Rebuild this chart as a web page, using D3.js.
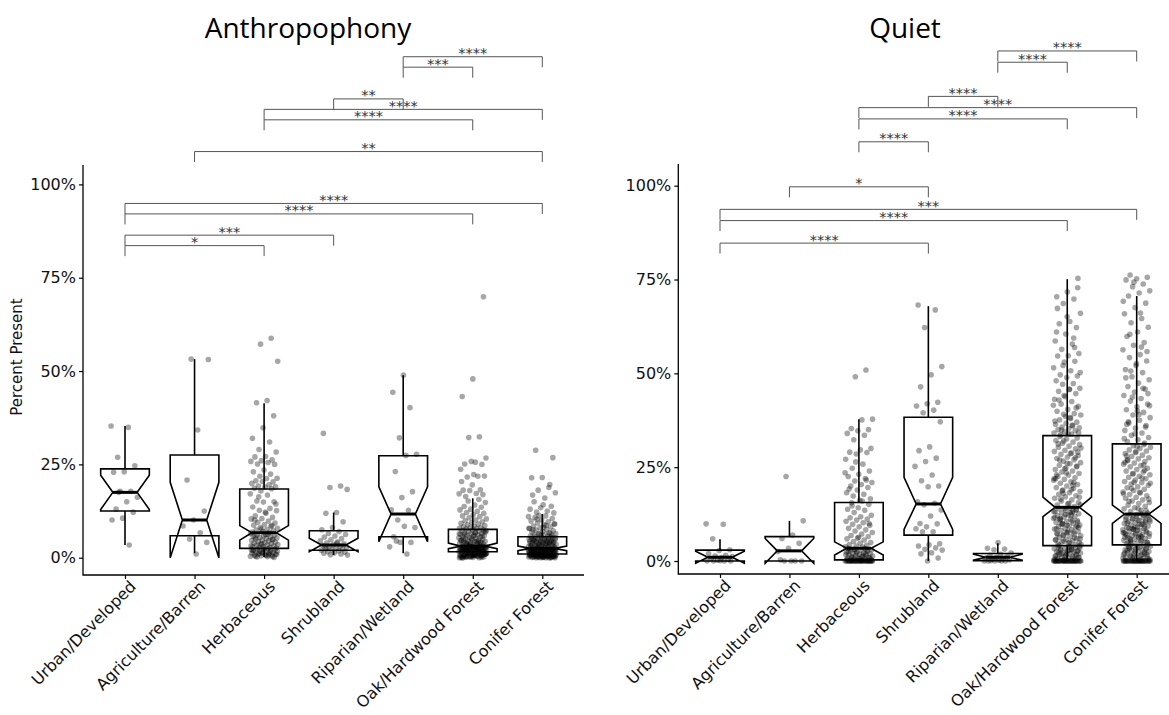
<!DOCTYPE html>
<html>
<head>
<meta charset="utf-8">
<script src="https://cdnjs.cloudflare.com/ajax/libs/d3/7.8.5/d3.min.js"></script>
<style>
  body { margin: 0; background: #fff; }
  svg { display: block; }
</style>
</head>
<body>
<svg id="chart" width="1169" height="715"></svg>
<script>

var landCovers = ["Urban/Developed", "Agriculture/Barren", "Herbaceous", "Shrubland",
                  "Riparian/Wetland", "Oak/Hardwood Forest", "Conifer Forest"]
var percentTicks = [0, 25, 50, 75, 100]

// box statistics, percent present (anthropophony)
var anthroWhiskerLow  = [3.4, 1.2, 0.2, 0.7, 1.2, 0, 0]
var anthroQ1          = [12.5, 5.9, 2.5, 2.0, 5.6, 1.6, 1.0]
var anthroNotchLow    = [12.9, 0.0, 4.7, 1.6, 4.3, 2.4, 1.9]
var anthroMedian      = [17.5, 10.1, 6.7, 3.4, 11.7, 3.1, 2.5]
var anthroNotchHigh   = [22.1, 20.2, 8.6, 5.2, 19.0, 3.9, 3.1]
var anthroQ3          = [23.8, 27.5, 18.4, 7.2, 27.3, 7.6, 5.6]
var anthroWhiskerHigh = [35.3, 53.2, 41.4, 12.1, 48.9, 15.9, 11.7]

// box statistics, percent present (quiet)
var quietWhiskerLow  = [0, 0, 0, 0, 0, 0, 0]
var quietQ1          = [0, 0, 0.3, 6.9, 0.1, 4.1, 4.3]
var quietNotchLow    = [-0.6, -0.6, 1.6, 8.4, 0.2, 11.8, 10.0]
var quietMedian      = [1.0, 2.7, 3.4, 15.2, 1.0, 14.3, 12.5]
var quietNotchHigh   = [2.6, 6.0, 5.1, 22.3, 1.8, 17.0, 14.9]
var quietQ3          = [2.9, 6.5, 15.6, 38.3, 2.0, 33.4, 31.2]
var quietWhiskerHigh = [5.8, 10.7, 37.8, 67.9, 4.7, 75.1, 70.6]

// site observations, percent present (anthropophony)
var anthroUrban = [35.3, 34.9, 26.9, 24.6, 23.0, 22.9, 17.8, 17.8, 16.2, 15.0, 13.0, 12.2, 10.6, 10.1, 3.4, 17.5]
var anthroAgri = [53.2, 53.1, 34.2, 20.8, 12.5, 10.1, 8.5, 6.7, 5.0, 4.1, 1.0]
var anthroHerb = [58.8, 57.2, 52.6, 42.1, 41.5, 38.0, 34.8, 32.0, 31.0, 29.0, 28.3, 27.1, 27.0, 26.2, 26.0, 25.8, 25.5, 25.1, 25.0, 23.5, 23.0, 22.4, 21.8, 21.3, 21.2, 20.6, 20.3, 20.4, 19.9, 19.5, 19.2, 19.0, 18.9, 18.6, 18.5,
  17.9, 17.1, 16.8, 15.2, 15.0, 14.9, 13.6, 13.2, 12.7, 12.6, 11.9, 11.2, 10.8, 10.5, 10.4, 9.8, 9.5, 9.3, 8.9, 8.7, 8.4, 8.1, 7.9, 7.6, 7.4, 7.2, 7.0, 6.9, 6.8, 16.3, 14.4, 12.2, 10.1, 8.6, 7.7,
  6.4, 6.3, 6.1, 6.0, 5.9, 5.7, 5.6, 5.4, 5.3, 5.1, 5.0, 4.9, 4.7, 4.6, 4.5, 4.3, 4.2, 4.0, 3.9, 3.8, 3.6, 3.5, 3.4, 3.3, 3.1, 3.0, 2.9, 2.8, 2.7, 2.6, 6.2, 5.5, 4.8, 3.7, 3.2,
  2.4, 2.3, 2.2, 2.1, 2.0, 1.9, 1.8, 1.7, 1.6, 1.5, 1.4, 1.3, 1.2, 1.1, 1.0, 0.9, 0.8, 0.7, 0.6, 0.5, 0.4, 0.3, 0.2, 0.1, 2.4, 1.9, 1.6, 1.2, 0.9, 0.6, 0.4, 0.3, 1.4, 2.1, 0.8]
var anthroShrub = [33.3, 19.2, 18.8, 18.3, 12.1, 11.9, 9.6, 8.1, 7.5, 7.0, 6.5, 6.2, 5.8, 5.5, 5.1, 4.8, 4.5, 4.2, 4.0, 3.7,
  3.5, 3.3, 3.1, 3.0, 2.8, 2.6, 2.5, 2.3, 2.1, 2.0, 1.8, 1.6, 1.5, 1.3, 1.2, 1.0, 0.8, 0.7, 3.9, 2.4]
var anthroRiparian = [48.9, 44.3, 40.2, 32.1, 27.7, 27.4, 23.1, 17.7, 16.1, 12.8, 12.7, 10.1, 8.1, 8.4, 5.6, 4.1, 4.1, 2.9, 1.0, 4.5]
var anthroOak = [69.9, 47.9, 43.2, 32.4, 32.2, 26.7, 25.6, 25.1, 25.0, 25.8, 23.7, 21.8, 21.6, 21.9, 22.3, 18.1, 18.2, 18.0, 17.1, 17.2, 16.4, 16.9, 19.5, 20.4,
  15.6, 15.2, 14.8, 14.1, 13.7, 13.5, 13.0, 12.8, 12.4, 12.1, 11.9, 11.5, 11.2, 11.0, 10.7, 10.4, 10.1, 9.9, 9.6, 9.4, 9.2, 9.0, 8.8, 8.6, 8.5, 8.3, 8.1, 8.0, 7.9, 7.8, 7.7,
  7.5, 7.4, 7.2, 7.1, 7.0, 6.9, 6.8, 6.6, 6.5, 6.4, 6.3, 6.1, 6.0, 5.9, 5.8, 5.6, 5.5, 5.4, 5.3, 5.2, 5.0, 4.9, 4.8, 4.7, 4.6, 4.5, 4.4, 4.3, 4.2, 4.1, 4.0, 3.9, 3.8, 3.7, 3.6, 3.5, 3.4, 3.3, 3.2,
  7.3, 6.7, 6.2, 5.7, 5.1, 4.6, 4.1, 3.6, 7.0, 6.0, 5.0, 4.0, 3.5, 6.4, 4.4, 3.9,
  3.0, 2.9, 2.8, 2.7, 2.6, 2.5, 2.4, 2.3, 2.2, 2.1, 2.0, 1.9, 1.8, 1.7, 3.0, 2.9, 2.7, 2.6, 2.4, 2.3, 2.1, 2.0, 1.8, 1.7, 3.0, 2.8, 2.5, 2.2, 1.9, 1.6,
  2.9, 2.6, 2.3, 2.0, 1.7, 2.8, 2.5, 2.2, 1.9, 3.0, 2.7, 2.4, 2.1, 1.8, 2.6, 2.2, 1.8, 2.9, 2.4, 2.0, 2.7, 2.3, 1.6, 2.5, 2.1,
  1.5, 1.4, 1.3, 1.2, 1.1, 1.0, 0.9, 0.8, 0.7, 0.6, 0.5, 0.4, 0.3, 0.2, 0.1, 0.0, 1.5, 1.3, 1.1, 0.9, 0.7, 0.5, 0.3, 0.1, 1.4, 1.2, 1.0, 0.8, 0.6, 0.4, 0.2, 0.0,
  1.5, 1.2, 0.9, 0.6, 0.3, 0.0, 1.4, 1.0, 0.7, 0.4, 0.1, 1.3, 0.8, 0.5, 0.2, 1.1, 0.6, 0.0, 0.9, 0.3, 1.2, 0.7, 0.2]
var anthroConifer = [28.8, 26.8, 21.5, 21.4, 18.8, 18.1, 17.4, 16.0, 15.0, 13.8, 13.4, 13.0, 12.5, 12.2, 12.0, 14.2, 16.8, 19.6,
  11.3, 11.0, 11.2, 10.8, 10.5, 10.1, 9.8, 9.6, 9.3, 9.0, 8.8, 8.5, 8.3, 8.0, 7.8, 7.6, 7.4, 7.2, 7.0, 6.9, 6.7, 6.5, 6.4, 6.2, 6.1, 6.0, 5.9, 5.8, 5.7, 10.3, 9.1, 8.1, 7.5, 6.6, 6.3, 7.9, 8.7,
  5.5, 5.4, 5.3, 5.2, 5.1, 5.0, 4.9, 4.8, 4.7, 4.6, 4.5, 4.4, 4.3, 4.2, 4.1, 4.0, 3.9, 3.8, 3.7, 3.6, 3.5, 3.4, 3.3, 3.2, 3.1, 3.0, 2.9, 2.8, 2.7, 2.6,
  5.5, 5.2, 4.9, 4.6, 4.3, 4.0, 3.7, 3.4, 3.1, 2.8, 5.3, 5.0, 4.7, 4.4, 4.1, 3.8, 3.5, 3.2, 2.9, 2.6, 4.8, 4.2, 3.6, 3.0, 3.9,
  2.4, 2.3, 2.2, 2.1, 2.0, 1.9, 1.8, 1.7, 1.6, 1.5, 1.4, 1.3, 1.2, 1.1, 2.4, 2.3, 2.1, 2.0, 1.8, 1.7, 1.5, 1.4, 1.2, 1.1, 2.4, 2.2, 1.9, 1.6, 1.3, 1.0,
  2.3, 2.0, 1.7, 1.4, 1.1, 2.2, 1.9, 1.6, 1.3, 2.4, 2.1, 1.8, 1.5, 1.2, 2.0, 1.6, 1.2, 2.3, 1.8, 1.4, 2.1, 1.7, 1.0, 1.9, 1.5,
  0.9, 0.8, 0.7, 0.6, 0.5, 0.4, 0.3, 0.2, 0.1, 0.0, 0.9, 0.8, 0.7, 0.5, 0.4, 0.3, 0.1, 0.0, 0.9, 0.7, 0.6, 0.4, 0.2, 0.0, 0.8, 0.6, 0.5, 0.3, 0.1,
  0.9, 0.7, 0.4, 0.2, 0.0, 0.8, 0.5, 0.3, 0.9, 0.6, 0.2, 0.0, 0.7, 0.4, 0.1, 0.8, 0.5, 0.3, 0.0, 0.6, 0.2, 0.9, 0.4, 0.1, 0.7, 0.5]

// site observations, percent present (quiet)
var quietUrban = [9.9, 9.8, 5.9, 3.0, 2.8, 2.0, 1.5, 1.3, 1.2, 0.9, 0.6, 0.4, 0.2, 0, 0, 0, 0, 0.1]
var quietAgri = [22.5, 10.7, 6.9, 6.0, 4.7, 3.4, 2.5, 0, 0, 0, 0, 0.3]
var quietHerb = [50.9, 49.1, 37.8, 37.6, 35.3, 35.0, 34.7, 34.0, 33.5, 32.3, 30.0, 29.6, 29.0, 28.9, 28.5, 27.1, 25.8, 24.7, 24.0, 23.1, 22.5, 22.0, 21.3, 20.9, 20.4, 20.0, 19.6, 18.9, 18.2, 17.8, 17.3, 16.6, 16.2, 19.2, 21.6, 26.4, 23.5, 16.0,
  15.5, 15.1, 14.2, 13.8, 13.5, 12.9, 12.2, 11.8, 11.5, 11.2, 10.9, 10.6, 10.2, 9.8, 9.5, 9.1, 8.7, 8.3, 8.0, 7.6, 7.2, 6.8, 6.5, 6.1, 5.9, 5.6, 5.2, 4.9, 4.7, 4.4, 4.2, 4.0, 3.8, 3.7, 14.7, 10.0, 6.3,
  3.4, 3.3, 3.1, 3.0, 2.9, 2.7, 2.6, 2.4, 2.3, 2.1, 2.0, 1.9, 1.8, 1.6, 1.5, 1.4, 1.3, 1.2, 1.1, 1.0, 0.9, 0.8, 0.7, 0.6, 0.5, 0.5, 3.2, 2.8, 2.2, 1.7, 1.4, 1.0, 0.8, 0.6, 2.5, 1.9, 3.0,
  0.1, 0.2, 0.3, 0.2, 0.1, 0.3, 0.2, 0.1, 0, 0, 0, 0, 0, 0, 0, 0, 0, 0, 0, 0, 0, 0, 0, 0, 0, 0, 0, 0, 0, 0, 0, 0, 0, 0, 0, 0, 0, 0]
var quietShrub = [68.2, 66.9, 62.2, 51.8, 49.6, 46.4, 42.3, 41.9, 41.3, 40.2, 39.5, 37.1, 30.4, 29.4, 27.4, 26.5, 25.2, 22.9, 21.4, 20.0, 19.8,
  15.8, 15.4, 15.0, 13.6, 12.0, 10.0, 9.9, 9.1, 8.6, 7.8, 7.8, 4.6, 4.3, 4.0, 3.5, 3.1, 2.9, 2.2, 1.9, 0.8, 0.0]
var quietRiparian = [4.9, 3.4, 3.2, 3.0, 2.1, 1.8, 1.5, 1.2, 1.0, 0.8, 0.6, 0.5, 0.3, 0.2, 0, 0, 0, 0, 0, 0.1]
var quietOak = [75.3, 71.7, 70.4, 69.8, 68.6, 66.0, 63.8, 63.2, 62.2, 60.5, 58.6, 57.8, 56.4, 55.3, 54.7, 54.6, 53.2, 53.0, 51.5, 50.7, 49.6, 49.3, 48.9, 48.0, 47.3, 47.1,
  46.0, 45.8, 45.2, 44.6, 43.8, 43.1, 42.5, 41.8, 41.2, 40.4, 39.9, 39.3, 39.1, 38.9, 38.2, 37.6, 37.0, 36.7, 36.4, 36.0, 35.7, 35.5, 35.3, 35.0, 34.7, 34.4, 34.1, 33.8, 33.6,
  72.8, 65.1, 61.0, 59.4, 52.1, 50.2, 45.7, 42.9, 40.8, 38.5, 37.3, 36.2, 34.9, 34.2, 33.9, 67.3, 56.9, 44.1, 41.5, 38.0,
  33.2, 32.8, 32.5, 32.1, 31.7, 31.4, 31.0, 30.6, 30.3, 29.9, 29.5, 29.2, 28.8, 28.4, 28.1, 27.7, 27.3, 27.0, 26.6, 26.2, 25.9, 25.5, 25.1, 24.8, 24.4, 24.0,
  23.7, 23.3, 22.9, 22.6, 22.2, 21.8, 21.5, 21.1, 20.7, 20.4, 20.0, 19.6, 19.3, 18.9, 18.5, 18.2, 17.8, 17.4, 17.1, 16.7, 16.3, 16.0, 15.6, 15.2, 14.9, 14.5,
  32.0, 30.1, 28.6, 26.9, 25.3, 23.5, 21.9, 20.2, 18.7, 17.0, 15.4, 31.2, 27.5, 24.6, 22.0, 19.0, 16.5, 29.0, 26.0, 23.0, 20.9, 18.0, 15.0,
  14.1, 13.9, 13.7, 13.5, 13.2, 13.0, 12.8, 12.6, 12.3, 12.1, 11.9, 11.7, 11.4, 11.2, 11.0, 10.8, 10.5, 10.3, 10.1, 9.9, 9.6, 9.4, 9.2, 9.0, 8.7,
  8.5, 8.3, 8.1, 7.8, 7.6, 7.4, 7.2, 6.9, 6.7, 6.5, 6.3, 6.0, 5.8, 5.6, 5.4, 5.1, 4.9, 4.7, 4.5, 4.3, 14.0, 13.1, 12.2, 11.3, 10.4, 9.5, 8.6, 7.7, 6.8, 5.9,
  5.0, 4.2, 13.6, 12.4, 11.6, 10.7, 9.8, 8.9, 8.0, 7.1, 6.2, 5.3, 4.4, 12.9, 11.1, 9.3, 7.5, 5.7, 13.3, 10.0,
  4.0, 3.9, 3.7, 3.6, 3.4, 3.3, 3.1, 3.0, 2.8, 2.7, 2.5, 2.4, 2.2, 2.1, 1.9, 1.8, 1.6, 1.5, 1.3, 1.2, 1.0, 0.9, 0.7, 0.6, 0.4, 0.3, 0.1,
  3.8, 3.2, 2.6, 2.0, 1.4, 0.8, 0.2, 3.5, 2.9, 2.3, 1.7, 1.1, 0.5, 3.0, 1.9, 0.9,
  0, 0, 0, 0, 0, 0, 0, 0, 0, 0, 0, 0, 0, 0, 0, 0, 0, 0, 0, 0, 0, 0, 0, 0, 0, 0, 0, 0, 0, 0, 0, 0]
var quietConifer = [76.2, 75.6, 75.2, 74.9, 73.8, 73.1, 72.0, 71.4, 70.6, 68.7, 67.5, 65.9, 64.6, 63.5, 62.3, 61.0, 59.8, 58.2, 57.5, 56.3, 55.0, 54.2, 53.3, 52.1, 51.0,
  50.2, 49.1, 48.3, 47.4, 46.5, 45.8, 45.0, 44.1, 43.3, 42.6, 41.8, 41.1, 40.3, 39.6, 38.9, 38.2, 37.5, 36.8, 36.1, 35.4, 34.8, 34.1, 33.5, 32.9, 32.3, 31.8, 31.4,
  74.3, 69.2, 66.1, 60.4, 55.8, 52.6, 48.8, 46.0, 43.7, 41.4, 39.0, 37.1, 35.7, 33.9, 32.6, 57.0, 50.6, 44.6, 40.0, 36.4,
  31.0, 30.7, 30.3, 30.0, 29.6, 29.3, 28.9, 28.6, 28.2, 27.9, 27.5, 27.2, 26.8, 26.5, 26.1, 25.8, 25.4, 25.1, 24.7, 24.4, 24.0, 23.7, 23.3, 23.0, 22.6, 22.3,
  21.9, 21.6, 21.2, 20.9, 20.5, 20.2, 19.8, 19.5, 19.1, 18.8, 18.4, 18.1, 17.7, 17.4, 17.0, 16.7, 16.3, 16.0, 15.6, 15.3, 14.9, 14.6, 14.2, 13.9, 13.5, 13.2, 12.8,
  30.5, 28.0, 25.6, 23.2, 20.7, 18.3, 15.9, 13.4, 29.1, 26.3, 22.1, 19.3, 16.5, 14.0, 27.0, 24.2, 21.0, 17.9, 12.7,
  12.3, 12.1, 11.9, 11.7, 11.5, 11.2, 11.0, 10.8, 10.6, 10.4, 10.2, 10.0, 9.8, 9.6, 9.3, 9.1, 8.9, 8.7, 8.5, 8.3, 8.1, 7.9, 7.7, 7.4, 7.2,
  7.0, 6.8, 6.6, 6.4, 6.2, 6.0, 5.8, 5.5, 5.3, 5.1, 4.9, 4.7, 4.5, 12.2, 11.4, 10.5, 9.7, 8.8, 8.0, 7.1, 6.3, 5.4, 4.6,
  11.8, 10.9, 10.1, 9.2, 8.4, 7.5, 6.7, 5.9, 5.0, 12.4, 11.1, 9.9, 8.6, 7.3, 6.1, 4.8, 10.7, 9.0, 7.6, 6.5, 5.6, 4.4, 8.2, 6.9,
  4.2, 4.0, 3.9, 3.7, 3.5, 3.4, 3.2, 3.0, 2.9, 2.7, 2.5, 2.4, 2.2, 2.0, 1.9, 1.7, 1.5, 1.4, 1.2, 1.0, 0.9, 0.7, 0.5, 0.4, 0.2,
  3.8, 3.1, 2.6, 2.1, 1.6, 1.1, 0.6, 3.6, 2.8, 2.3, 1.3, 0.8, 0.3, 3.3, 1.8,
  0, 0, 0, 0, 0, 0, 0, 0, 0, 0, 0, 0, 0, 0, 0, 0, 0, 0, 0, 0, 0, 0, 0, 0, 0, 0, 0, 0, 0, 0, 0, 0]

// pairwise comparisons: land cover indices, stars, bracket height in %
var anthroPairs  = [[0, 2], [0, 3], [0, 5], [0, 6], [1, 6], [2, 5], [2, 6], [3, 4], [4, 5], [4, 6]]
var anthroStars  = ["*", "***", "****", "****", "**", "****", "****", "**", "***", "****"]
var anthroHeight = [83.6, 86.4, 92.1, 94.9, 108.8, 117.3, 120.1, 122.9, 131.4, 134.2]

var quietPairs  = [[0, 3], [0, 5], [0, 6], [1, 3], [2, 3], [2, 5], [2, 6], [3, 4], [4, 5], [4, 6]]
var quietStars  = ["****", "****", "***", "*", "****", "****", "****", "****", "****", "****"]
var quietHeight = [84.7, 90.7, 93.7, 99.7, 111.7, 117.8, 120.8, 123.8, 132.9, 135.9]


var svg = d3.select("#chart")
var font = "DejaVu Sans, sans-serif"

function draw_panel(p){

  var x = d3.scalePoint().domain(d3.range(landCovers.length)).range(p.xRange)
  var y = d3.scaleLinear().domain([0, 100]).range(p.yRange)
  var step = x.step()
  var box_w = step * 0.7
  var inset = box_w * 0.25
  var jitter_w = step * 0.2

  var g = svg.append("g")

  // title
  g.append("text")
      .attr("x", p.titleX).attr("y", 38)
      .attr("text-anchor", "middle")
      .style("font-family", "'Open Sans', sans-serif")
      .style("font-size", "28px")
      .text(p.title)

  // jittered observations
  p.points.forEach(function(vals, c){
    g.append("g").selectAll("circle")
        .data(vals)
      .enter().append("circle")
        .attr("cx", function(v, i){ return x(c) + (((i * 0.618034 + c * 0.377) % 1) - 0.5) * 2 * jitter_w })
        .attr("cy", function(v){ return y(v) })
        .attr("r", 2.8)
        .style("fill", "#000")
        .style("fill-opacity", 0.35)
  })

  // notched boxes
  var line = d3.line().x(function(d){ return d[0] }).y(function(d){ return y(d[1]) })
  landCovers.forEach(function(name, c){
    var cx = x(c), x0 = cx - box_w / 2, x1 = cx + box_w / 2
    var bg = g.append("g").style("stroke", "#000").style("fill", "none")

    bg.append("line")
        .attr("x1", cx).attr("x2", cx)
        .attr("y1", y(p.q3[c])).attr("y2", y(p.whiskerHigh[c]))
        .style("stroke-width", 1.6)
    if (p.whiskerLow[c] < p.q1[c]) {
      bg.append("line")
          .attr("x1", cx).attr("x2", cx)
          .attr("y1", y(p.q1[c])).attr("y2", y(p.whiskerLow[c]))
          .style("stroke-width", 1.6)
    }

    var outline = [
      [x0, p.q3[c]], [x0, p.notchHigh[c]], [x0 + inset, p.median[c]], [x0, p.notchLow[c]], [x0, p.q1[c]],
      [x1, p.q1[c]], [x1, p.notchLow[c]], [x1 - inset, p.median[c]], [x1, p.notchHigh[c]], [x1, p.q3[c]]
    ]
    bg.append("path")
        .attr("d", line(outline) + "Z")
        .style("stroke-width", 1.6)
        .style("stroke-linejoin", "miter")

    bg.append("line")
        .attr("x1", x0 + inset).attr("x2", x1 - inset)
        .attr("y1", y(p.median[c])).attr("y2", y(p.median[c]))
        .style("stroke-width", 3)
  })

  // axes
  var y_axis = d3.axisLeft(y).tickValues(percentTicks).tickFormat(function(d){ return d + "%" }).tickSize(4).tickPadding(3)
  var ya = g.append("g").attr("transform", "translate(" + p.axisLeft + ",0)").call(y_axis)
  ya.select(".domain").remove()
  ya.selectAll("line").style("stroke", "#000").style("stroke-width", 1.2)
  ya.selectAll("text").style("font-family", font).style("font-size", "16px").style("fill", "#111")

  var x_axis = d3.axisBottom(x).tickFormat(function(i){ return landCovers[i] }).tickSize(4).tickPadding(3)
  var xa = g.append("g").attr("transform", "translate(0," + p.axisBottom + ")").call(x_axis)
  xa.select(".domain").remove()
  xa.selectAll("line").style("stroke", "#000").style("stroke-width", 1.2)
  xa.selectAll("text")
      .style("font-family", font).style("font-size", "16px").style("fill", "#111")
      .attr("text-anchor", "end")
      .attr("transform", "translate(3,4) rotate(-45)")
      .attr("x", 0).attr("y", 0).attr("dy", "0.75em")

  g.append("path")
      .attr("d", "M" + p.axisLeft + "," + p.axisTop + "V" + p.axisBottom + "H" + p.axisRight)
      .style("fill", "none").style("stroke", "#000").style("stroke-width", 1.3)

  // significance brackets
  var sg = g.append("g")
  p.pairs.forEach(function(pr, k){
    var xa0 = x(pr[0]), xa1 = x(pr[1]), yy = y(p.heights[k])
    sg.append("path")
        .attr("d", "M" + xa0 + "," + (yy + 10.5) + "V" + yy + "H" + xa1 + "V" + (yy + 10.5))
        .style("fill", "none").style("stroke", "#555").style("stroke-width", 1)
    sg.append("text")
        .attr("x", (xa0 + xa1) / 2).attr("y", yy + 1.5)
        .attr("text-anchor", "middle")
        .style("font-family", font).style("font-size", "14.5px").style("fill", "#333")
        .text(p.stars[k])
  })
}

draw_panel({
  title: "Anthropophony", titleX: 308,
  xRange: [125, 542.3], yRange: [557.7, 184.4],
  axisLeft: 83, axisRight: 584, axisTop: 165, axisBottom: 575,
  q1: anthroQ1, median: anthroMedian, q3: anthroQ3,
  notchLow: anthroNotchLow, notchHigh: anthroNotchHigh,
  whiskerLow: anthroWhiskerLow, whiskerHigh: anthroWhiskerHigh,
  points: [anthroUrban, anthroAgri, anthroHerb, anthroShrub, anthroRiparian, anthroOak, anthroConifer],
  pairs: anthroPairs, stars: anthroStars, heights: anthroHeight
})

draw_panel({
  title: "Quiet", titleX: 905,
  xRange: [720, 1136.7], yRange: [561, 185.7],
  axisLeft: 678.3, axisRight: 1169, axisTop: 164, axisBottom: 574,
  q1: quietQ1, median: quietMedian, q3: quietQ3,
  notchLow: quietNotchLow, notchHigh: quietNotchHigh,
  whiskerLow: quietWhiskerLow, whiskerHigh: quietWhiskerHigh,
  points: [quietUrban, quietAgri, quietHerb, quietShrub, quietRiparian, quietOak, quietConifer],
  pairs: quietPairs, stars: quietStars, heights: quietHeight
})

svg.append("text")
    .attr("transform", "translate(22,357) rotate(-90)")
    .attr("text-anchor", "middle")
    .style("font-family", font).style("font-size", "15px").style("fill", "#111")
    .text("Percent Present")

</script>
</body>
</html>
